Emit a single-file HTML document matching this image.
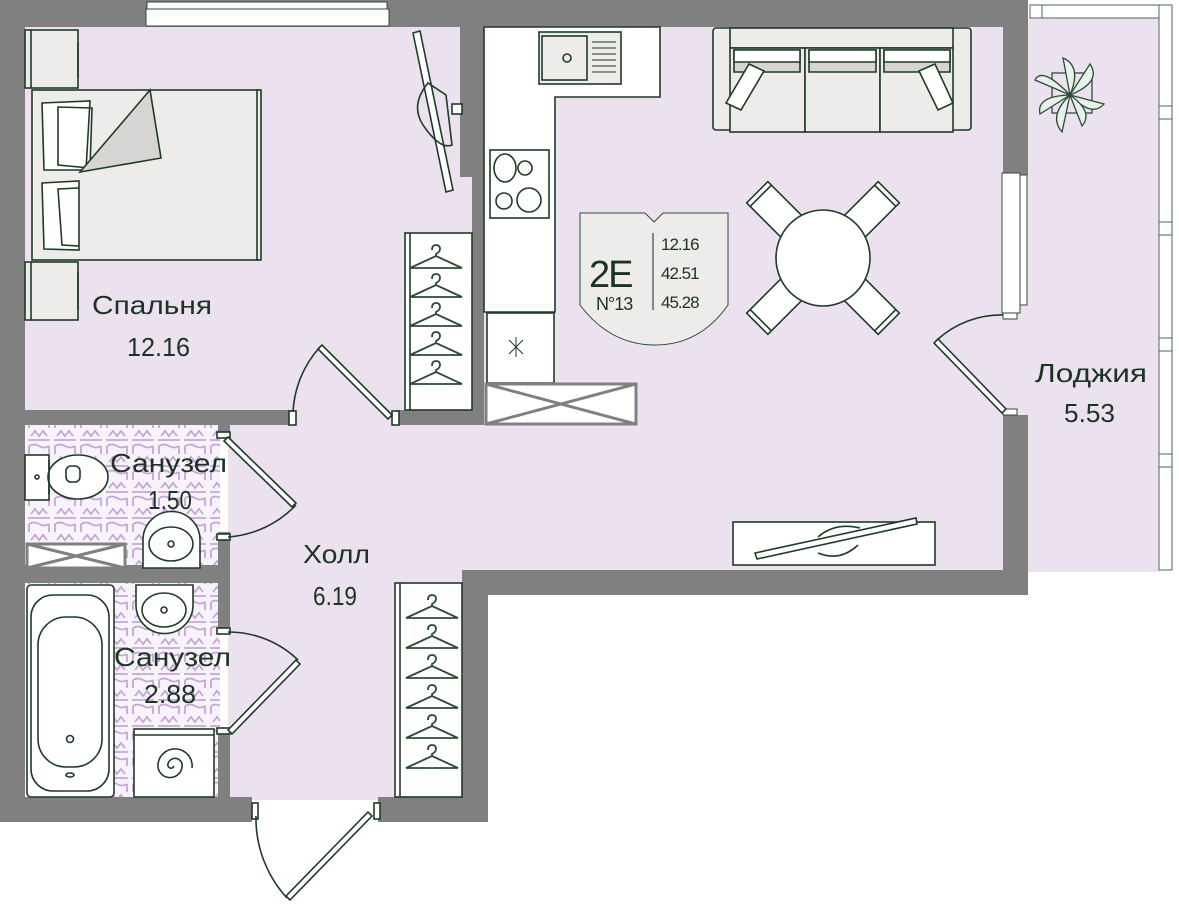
<!DOCTYPE html>
<html><head><meta charset="utf-8"><style>
html,body{margin:0;padding:0;background:#fff;}
svg{display:block}
text{font-family:"Liberation Sans",sans-serif;fill:#1b3322;}
</style></head><body>
<svg width="1179" height="904" viewBox="0 0 1179 904" xmlns="http://www.w3.org/2000/svg">
<defs>
<pattern id="tile" width="26" height="26" patternUnits="userSpaceOnUse">
<rect width="26" height="26" fill="#f8f3fa"/>
<path d="M3 4 q5 -3 10 0 q5 3 10 0 M3 4 v8 M23 4 v8 M5 20 l4 -5 l4 5 l4 -5 l4 5 M2 24 h22" stroke="#c4a6d6" stroke-width="1.8" fill="none"/>
</pattern>
<g id="hanger" fill="none" stroke="#2e4a36" stroke-width="1.8">
<path d="M0 0 q0 -5 4 -5 q4 0 4 4 q0 3 -4 5 v2 M-22 18 L4 6 L30 18 Z M-22 18 h52"/>
</g>
</defs>

<!-- floors -->
<rect x="25" y="27" width="450" height="385" fill="#ece2ef"/>
<rect x="483" y="27" width="522" height="545" fill="#ece2ef"/>
<rect x="228" y="405" width="257" height="395" fill="#ece2ef"/>
<rect x="1000" y="300" width="30" height="120" fill="#ece2ef"/>
<rect x="1026" y="18" width="134" height="554" fill="#ece2ef"/>
<rect x="25" y="425" width="195" height="145" fill="url(#tile)"/>
<rect x="25" y="583" width="195" height="215" fill="url(#tile)"/>

<!-- walls -->
<g fill="#808080">
<rect x="0" y="0" width="1028" height="27"/>
<rect x="0" y="0" width="25" height="822"/>
<rect x="0" y="797" width="252" height="25"/>
<rect x="378" y="797" width="110" height="25"/>
<rect x="462" y="570" width="26" height="252"/>
<rect x="462" y="570" width="566" height="25"/>
<rect x="1003" y="0" width="25" height="175"/>
<rect x="1003" y="415" width="25" height="180"/>
<rect x="460" y="27" width="13" height="150"/>
<rect x="472" y="27" width="12" height="398"/>
<rect x="25" y="410" width="268" height="15"/>
<rect x="396" y="410" width="88" height="15"/>
<rect x="218" y="425" width="12" height="12"/>
<rect x="218" y="532" width="12" height="100"/>
<rect x="218" y="728" width="12" height="70"/>
<rect x="25" y="565" width="195" height="18"/>
</g>

<!-- bedroom window -->
<rect x="147" y="2" width="240" height="8" fill="#fff" stroke="#2e4a36" stroke-width="1"/>
<rect x="146" y="9" width="243" height="17" fill="#fff" stroke="#2e4a36" stroke-width="1"/>
<!-- loggia frame -->
<rect x="1030" y="5" width="130" height="13" fill="#fff" stroke="#4a6a52" stroke-width="1"/>
<rect x="1159" y="5" width="13" height="565" fill="#fff" stroke="#4a6a52" stroke-width="1"/>
<g fill="#fff" stroke="#4a6a52"><rect x="1159" y="106" width="13" height="13"/><rect x="1159" y="222" width="13" height="13"/><rect x="1159" y="338" width="13" height="13"/><rect x="1159" y="454" width="13" height="13"/><rect x="1030" y="5" width="12" height="13"/></g>
<!-- loggia window -->
<rect x="1002" y="173" width="18" height="140" fill="#fff" stroke="#2e4a36"/>
<rect x="1020" y="175" width="7" height="130" fill="#fff" stroke="#2e4a36"/>
<rect x="1003" y="313" width="14" height="6" fill="#fff" stroke="#2e4a36"/>
<rect x="1003" y="409" width="14" height="6" fill="#fff" stroke="#2e4a36"/>

<g fill="none" stroke="#1f3a26" stroke-width="1.6">
<!-- doors -->
<rect x="289" y="411" width="7" height="14" fill="#fff"/><rect x="392" y="411" width="7" height="14" fill="#fff"/>
<path d="M392 415 L322 345 L318 349 L388 419Z" fill="#fff"/>
<path d="M293 412 A104 104 0 0 1 320 347"/>
<rect x="217" y="432" width="13" height="6" fill="#fff"/><rect x="217" y="534" width="13" height="6" fill="#fff"/>
<path d="M228 437 L296 503 L292 507 L224 441Z" fill="#fff"/>
<path d="M228 537 A104 104 0 0 0 296 505"/>
<rect x="217" y="628" width="13" height="6" fill="#fff"/><rect x="217" y="728" width="13" height="6" fill="#fff"/>
<path d="M228 730 L296 660 L300 664 L232 734Z" fill="#fff"/>
<path d="M228 632 A100 100 0 0 1 298 660"/>
<rect x="252" y="803" width="6" height="16" fill="#fff"/><rect x="374" y="803" width="6" height="16" fill="#fff"/>
<path d="M368 812 L286 896 L290 900 L372 816Z" fill="#fff"/>
<path d="M256 816 A118 118 0 0 0 287 898"/>
<path d="M1006 409 L938 339 L934 343 L1002 413Z" fill="#fff"/>
<path d="M1003 315 A95 95 0 0 0 937 340"/>

<!-- bedroom furniture -->
<rect x="25" y="30" width="53" height="58" fill="#eeeceb"/><line x1="31" y1="30" x2="31" y2="88"/><line x1="78" y1="42" x2="78" y2="78"/>
<rect x="25" y="262" width="53" height="58" fill="#eeeceb"/><line x1="31" y1="262" x2="31" y2="320"/><line x1="78" y1="272" x2="78" y2="310"/>
<rect x="32" y="90" width="226" height="170" fill="#eeeceb"/><rect x="257" y="90" width="4" height="170" fill="#eeeceb"/>
<path d="M42 103 L90 101 L86 170 L44 170Z M58 107 L92 108 L90 168 L58 165Z" fill="#fff"/>
<path d="M42 183 L79 181 L79 250 L44 249Z M58 189 L79 188 L79 246 L62 245Z" fill="#fff"/>
<path d="M80 172 L150 90 L161 158Z" fill="#d6d5d4"/>
<!-- TV bedroom -->
<path d="M413 33 L420 31 L453 190 L446 192Z" fill="#fff"/>
<path d="M428 83 Q410 105 423 125 Q440 150 452 145 L446 95Z"/>
<rect x="452" y="104" width="10" height="10" fill="#fff"/>
<!-- wardrobes -->
<rect x="405" y="233" width="67" height="177" fill="#fff"/><line x1="410" y1="233" x2="410" y2="410"/>
<rect x="395" y="583" width="67" height="214" fill="#fff"/><line x1="400" y1="583" x2="400" y2="797"/>
<!-- kitchen -->
<path d="M484 27 H660 V97 H555 V312 H484Z" fill="#fff"/>
<rect x="539" y="32" width="82" height="52" fill="#eeeceb"/><rect x="542" y="36" width="45" height="44" fill="#eeeceb"/>
<circle cx="567" cy="58" r="4"/>
<path d="M592 42 h24 M592 48 h24 M592 54 h24 M592 60 h24 M592 66 h24 M592 72 h24" stroke-width="1"/>
<rect x="490" y="150" width="59" height="68" fill="#fff"/>
<ellipse cx="505" cy="168" rx="11" ry="14"/><circle cx="525" cy="168" r="7"/><circle cx="504" cy="201" r="8"/><circle cx="529" cy="200" r="12"/>
<rect x="487" y="313" width="67" height="70" fill="#fff"/>
<path d="M509 340 l14 14 M523 340 l-14 14 M516 337 v20" stroke-width="1"/>
<!-- sofa -->
<rect x="713" y="28" width="258" height="102" fill="#eeeceb" rx="3"/>
<rect x="730" y="28" width="223" height="20" fill="#eeeceb"/>
<rect x="730" y="48" width="75" height="84" fill="#eeeceb"/><rect x="805" y="48" width="75" height="84" fill="#eeeceb"/><rect x="880" y="48" width="73" height="84" fill="#eeeceb"/>
<path d="M734 50 H800 V72 H734Z M809 50 H876 V72 H809Z M884 50 H950 V72 H884Z" fill="#d6d5d4"/>
<path d="M734 50 H800 V62 H734Z M809 50 H876 V62 H809Z M884 50 H950 V62 H884Z" fill="#fff"/>
<path d="M749 64 L764 71 L741 110 L726 103Z M935 64 L919 71 L938 110 L953 103Z" fill="#fff"/>
<!-- table -->
<g fill="#fff">
<g transform="rotate(-45 823 258)"><rect x="808" y="165" width="30" height="50"/><line x1="808" y1="170" x2="838" y2="170"/></g>
<g transform="rotate(45 823 258)"><rect x="808" y="165" width="30" height="50"/><line x1="808" y1="170" x2="838" y2="170"/></g>
<g transform="rotate(135 823 258)"><rect x="808" y="165" width="30" height="50"/><line x1="808" y1="170" x2="838" y2="170"/></g>
<g transform="rotate(-135 823 258)"><rect x="808" y="165" width="30" height="50"/><line x1="808" y1="170" x2="838" y2="170"/></g>
<ellipse cx="823" cy="258" rx="47" ry="48"/>
</g>
<!-- TV living -->
<rect x="733" y="522" width="202" height="43" fill="#fff"/>
<path d="M755 553 L916 518 L917 524 L757 559Z" fill="#fff"/>
<path d="M818 537 Q835 522 860 528 M818 553 Q840 562 858 545"/>
<!-- bathroom -->
<rect x="25" y="455" width="24" height="45" fill="#fff"/><circle cx="37" cy="477" r="2"/>
<ellipse cx="78" cy="477" rx="30" ry="22" fill="#fff"/><path d="M49 460 v34"/><rect x="66" y="466" width="14" height="16" rx="5"/>
<path d="M143 568 V540 A28 28 0 1 1 200 540 V568Z" fill="#fff"/><ellipse cx="171" cy="544" rx="22" ry="17"/><circle cx="171" cy="544" r="3"/>
<path d="M136 585 V605 A28 28 0 0 0 193 605 V585Z" fill="#fff"/><ellipse cx="164" cy="610" rx="22" ry="17"/><circle cx="164" cy="610" r="3"/>
<rect x="27" y="585" width="87" height="212" rx="4" fill="#fff"/><rect x="31" y="595" width="78" height="196" rx="22"/><rect x="38" y="617" width="64" height="150" rx="28"/>
<circle cx="70" cy="739" r="3.5"/><ellipse cx="70" cy="775" rx="4" ry="2"/>
<rect x="134" y="729" width="80" height="68" fill="#fff"/><line x1="134" y1="735" x2="214" y2="735"/>
<path d="M174 766 a3 3 0 1 1 -6 -2 a7 7 0 1 1 14 3 a12 12 0 1 1 -24 -3 a17 17 0 1 1 34 4"/>
</g>
<!-- vent boxes -->
<g stroke="#808080" stroke-width="3" fill="#fff">
<rect x="486" y="384" width="150" height="40"/><path d="M486 384 L636 424 M636 384 L486 424"/>
<rect x="27" y="544" width="98" height="24"/><path d="M27 544 L125 568 M125 544 L27 568"/>
</g>
<!-- hangers -->
<use href="#hanger" x="432" y="250"/><use href="#hanger" x="432" y="279"/><use href="#hanger" x="432" y="308"/><use href="#hanger" x="432" y="337"/><use href="#hanger" x="432" y="366"/>
<use href="#hanger" x="428" y="600"/><use href="#hanger" x="428" y="630"/><use href="#hanger" x="428" y="660"/><use href="#hanger" x="428" y="690"/><use href="#hanger" x="428" y="720"/><use href="#hanger" x="428" y="750"/>
<!-- plant -->
<g fill="#e6f2ea" stroke="#2e4a36" stroke-width="1.3">
<rect x="1052" y="73" width="40" height="40" fill="none"/>
<path d="M1070 95 L1035 80 Q1042 66 1070 95Z"/><path d="M1070 95 L1040 114 Q1036 96 1070 95Z"/>
<path d="M1070 95 L1063 58 Q1082 66 1070 95Z"/><path d="M1070 95 L1090 64 Q1102 82 1070 95Z"/>
<path d="M1070 95 L1104 104 Q1092 118 1070 95Z"/><path d="M1070 95 L1062 132 Q1048 116 1070 95Z"/>
<path d="M1070 95 L1082 126 Q1094 112 1070 95Z"/>
</g>
<!-- badge -->
<path d="M580 213 H645 L654 222 L663 213 H728 V305 Q700 345 655 345 Q610 345 580 305Z" fill="#eeeceb" stroke="#2e4a36" stroke-width="1"/>
<line x1="653" y1="233" x2="653" y2="310" stroke="#2e4a36" stroke-width="1.2"/>
<text x="589" y="287" font-size="38" letter-spacing="-2">2E</text>
<text x="596" y="310" font-size="18" letter-spacing="-1">N°13</text>
<text x="661" y="250" font-size="17" letter-spacing="-1">12.16</text>
<text x="661" y="279" font-size="17" letter-spacing="-1">42.51</text>
<text x="661" y="308" font-size="17" letter-spacing="-1">45.28</text>
<!-- labels -->
<g font-size="26">
<text x="92" y="314" textLength="120" lengthAdjust="spacingAndGlyphs">Спальня</text>
<text x="127" y="356" textLength="63" lengthAdjust="spacingAndGlyphs">12.16</text>
<text x="110" y="472" textLength="117" lengthAdjust="spacingAndGlyphs">Санузел</text>
<text x="148" y="509" textLength="44" lengthAdjust="spacingAndGlyphs">1.50</text>
<text x="303" y="563" textLength="67" lengthAdjust="spacingAndGlyphs">Холл</text>
<text x="313" y="605" textLength="44" lengthAdjust="spacingAndGlyphs">6.19</text>
<text x="114" y="666" textLength="117" lengthAdjust="spacingAndGlyphs">Санузел</text>
<text x="144" y="703" textLength="52" lengthAdjust="spacingAndGlyphs">2.88</text>
<text x="1035" y="382" textLength="112" lengthAdjust="spacingAndGlyphs">Лоджия</text>
<text x="1064" y="422" textLength="51" lengthAdjust="spacingAndGlyphs">5.53</text>
</g>
</svg>
</body></html>
